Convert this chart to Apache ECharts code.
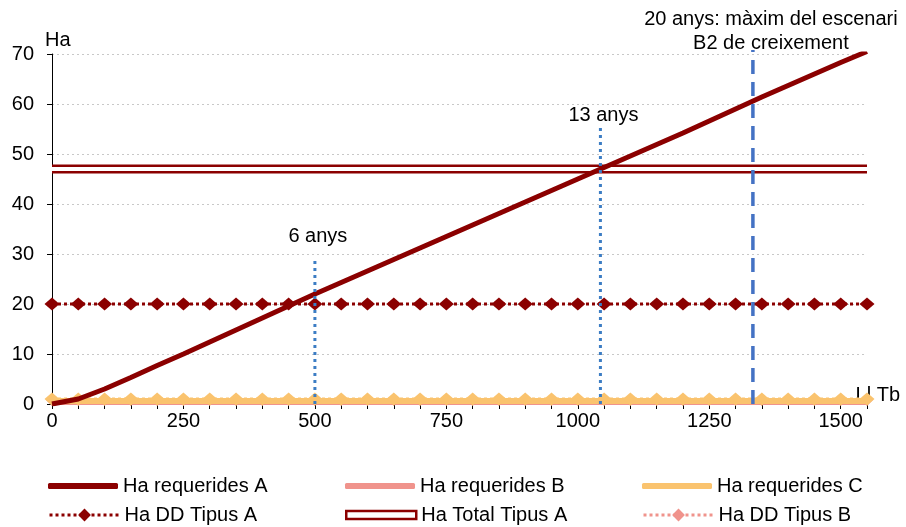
<!DOCTYPE html>
<html>
<head>
<meta charset="utf-8">
<script src="https://cdn.jsdelivr.net/npm/echarts@6/dist/echarts.min.js"></script>
<style>html,body{margin:0;padding:0;background:#fff}#c{width:906px;height:527px}</style>
</head>
<body>
<div id="c"></div>
<script>
const xValues = [0,50,100,150,200,250,300,350,400,450,500,550,600,650,700,750,800,850,900,950,1000,1050,1100,1150,1200,1250,1300,1350,1400,1450,1500,1550];
const haRequeridesA = [0,1.0,3.0,5.3,7.7,10.0,12.4,14.8,17.2,19.6,22.0,24.3,26.6,28.9,31.2,33.5,35.8,38.1,40.4,42.7,45.0,47.3,49.6,51.9,54.2,56.6,59.0,61.4,63.7,66.0,68.3,70.5];
const haRequeridesB = [0.3,0.3,0.3,0.3,0.3,0.3,0.3,0.3,0.3,0.3,0.3,0.3,0.3,0.3,0.3,0.3,0.3,0.3,0.3,0.3,0.3,0.3,0.3,0.3,0.3,0.3,0.3,0.3,0.3,0.3,0.3,0.3];
const haRequeridesC = [0.6,0.6,0.6,0.6,0.6,0.6,0.6,0.6,0.6,0.6,0.6,0.6,0.6,0.6,0.6,0.6,0.6,0.6,0.6,0.6,0.6,0.6,0.6,0.6,0.6,0.6,0.6,0.6,0.6,0.6,0.6,0.6];
const haDDTipusA = [20,20,20,20,20,20,20,20,20,20,20,20,20,20,20,20,20,20,20,20,20,20,20,20,20,20,20,20,20,20,20,20];
const haDDTipusB = [0.8,0.8,0.8,0.8,0.8,0.8,0.8,0.8,0.8,0.8,0.8,0.8,0.8,0.8,0.8,0.8,0.8,0.8,0.8,0.8,0.8,0.8,0.8,0.8,0.8,0.8,0.8,0.8,0.8,0.8,0.8,0.8];
const haDDTipusC = [1.0,1.0,1.0,1.0,1.0,1.0,1.0,1.0,1.0,1.0,1.0,1.0,1.0,1.0,1.0,1.0,1.0,1.0,1.0,1.0,1.0,1.0,1.0,1.0,1.0,1.0,1.0,1.0,1.0,1.0,1.0,1.0];
const totalX = [0,1550];
const haTotalTipusA = [47,47];
const markerYears = ['6 anys','13 anys','20 anys: màxim del escenari\nB2 de creixement'];
const markerX = [500,1043,1333];
const markerTop = [29,55.5,70.8];
const yTicks = [0,10,20,30,40,50,60,70];
const xLabelStep = 250;

const FONT = 'Liberation Sans, Arial, sans-serif';
const FS = 20;
const DR = '#8B0000', PINK = '#F0938C', ORANGE = '#FAC36E', BLUE = '#3C7DC4', BLUE2 = '#4472C4';
const zip = (xs, ys) => xs.map((x,i)=>[x, ys[i]]);

const chart = echarts.init(document.getElementById('c'), null, {renderer:'canvas'});

const series = [
  {name:'Ha requerides B', type:'line', data: zip(xValues, haRequeridesB), symbol:'none',
   lineStyle:{color:PINK, width:5}, itemStyle:{color:PINK}, z:2},
  {name:'Ha DD Tipus B', type:'line', data: zip(xValues, haDDTipusB), symbol:'diamond', symbolSize:12,
   lineStyle:{color:PINK, width:3, type:'dotted'}, itemStyle:{color:PINK}, z:3},
  {name:'Ha requerides C', type:'line', data: zip(xValues, haRequeridesC), symbol:'none',
   lineStyle:{color:ORANGE, width:6}, itemStyle:{color:ORANGE}, z:4},
  {name:'Ha DD Tipus C', type:'line', data: zip(xValues, haDDTipusC), symbol:'diamond', symbolSize:[15,13],
   lineStyle:{color:ORANGE, width:3, type:'dotted'}, itemStyle:{color:ORANGE}, z:5},
  {name:'Ha Total Tipus A', type:'line', data: zip(totalX, haTotalTipusA), symbol:'none',
   lineStyle:{color:DR, width:9}, itemStyle:{color:DR}, z:6},
  {name:'TotalInner', type:'line', data: zip(totalX, haTotalTipusA), symbol:'none',
   lineStyle:{color:'#fff', width:4}, itemStyle:{color:'#fff'}, z:7, silent:true},
  {name:'Ha DD Tipus A', type:'line', data: zip(xValues, haDDTipusA), symbol:'diamond', symbolSize:[15,13],
   lineStyle:{color:DR, width:3, type:'dotted'}, itemStyle:{color:DR}, z:8},
  {name:'Ha requerides A', type:'line', data: zip(xValues, haRequeridesA), symbol:'none',
   lineStyle:{color:DR, width:5}, itemStyle:{color:DR}, z:9}
];
const labelDist = [10, -1, -6];
const labelOff = [[3,0],[3,0],[18,0]];
markerX.forEach((x,i)=>{
  const dashed = i===2;
  series.push({
    name:'marker'+i, type:'line', clip:false, symbol:'circle', symbolSize:1, z:10, silent:true,
    showAllSymbol:true,
    data:[[x,0],{value:[x,markerTop[i]], label:{show:true, position:'top', distance: labelDist[i], offset: labelOff[i],
      formatter: markerYears[i], color:'#000', fontFamily:FONT, fontSize:FS, lineHeight:24, align:'center'}}],
    lineStyle:{color: dashed?BLUE2:BLUE, width: dashed?3.5:3, type: dashed?[14,8]:[3,4]},
    itemStyle:{color:'rgba(0,0,0,0)'}
  });
});

const legendBase = {orient:'vertical', itemWidth:70, itemHeight:16, itemGap:10, padding:0,
  textStyle:{fontFamily:FONT, fontSize:FS, color:'#000'}, selectedMode:false};
const legendPos = [
  ['Ha requerides A', 48, 476, DR], ['Ha requerides B', 345, 476, PINK], ['Ha requerides C', 642, 476, ORANGE],
  ['Ha DD Tipus A', 48, 505, DR], ['Ha Total Tipus A', 345, 505, DR], ['Ha DD Tipus B', 642, 505, PINK]
];
const legends = legendPos.map(([n,l,t,c])=>{
  const lg = Object.assign({}, legendBase, {left:l, top:t, data:[n]});
  if (n==='Ha Total Tipus A') {
    lg.data = [{name:n, icon:'rect', itemStyle:{color:'#fff', borderColor:c, borderWidth:2.5}}];
    lg.itemHeight = 8;
  } else if (n.indexOf('requerides')>=0) {
    lg.data = [{name:n, icon:'roundRect', itemStyle:{color:c}}];
    lg.itemHeight = 6;
  } else {
    lg.lineStyle = {width:3};
  }
  return lg;
});

chart.setOption({
  backgroundColor:'#fff',
  animation:false,
  textStyle:{fontFamily:FONT},
  grid:{left:52, right:39, top:54, bottom:123, containLabel:false},
  legend: legends,
  xAxis:{type:'value', min:0, max:1550, interval:50,
    axisLine:{show:true, onZero:false, lineStyle:{color:'#000', width:1}},
    axisTick:{show:true, length:5, lineStyle:{color:'#000'}},
    axisLabel:{color:'#000', fontSize:FS, fontFamily:FONT, margin:7,
      formatter:v => (v % xLabelStep === 0 ? String(v) : ''), showMaxLabel:true},
    splitLine:{show:false}},
  yAxis:{type:'value', min:yTicks[0], max:yTicks[yTicks.length-1], interval:10,
    name:'Ha', nameLocation:'end', nameGap:4, nameTextStyle:{color:'#000', fontSize:FS, fontFamily:FONT, align:'left', padding:[0,0,0,-7]},
    axisLine:{show:true, lineStyle:{color:'#000', width:1}},
    axisTick:{show:true, length:5, lineStyle:{color:'#000'}},
    axisLabel:{color:'#000', fontSize:FS, fontFamily:FONT, margin:18},
    splitLine:{show:true, lineStyle:{color:'#c8c8c8', type:[2,3], width:1}}},
  graphic:[{type:'text', right:6, top:385, style:{text:'Ll Tb', fill:'#000', fontSize:FS, fontFamily:FONT}}],
  series
});
</script>
</body>
</html>
